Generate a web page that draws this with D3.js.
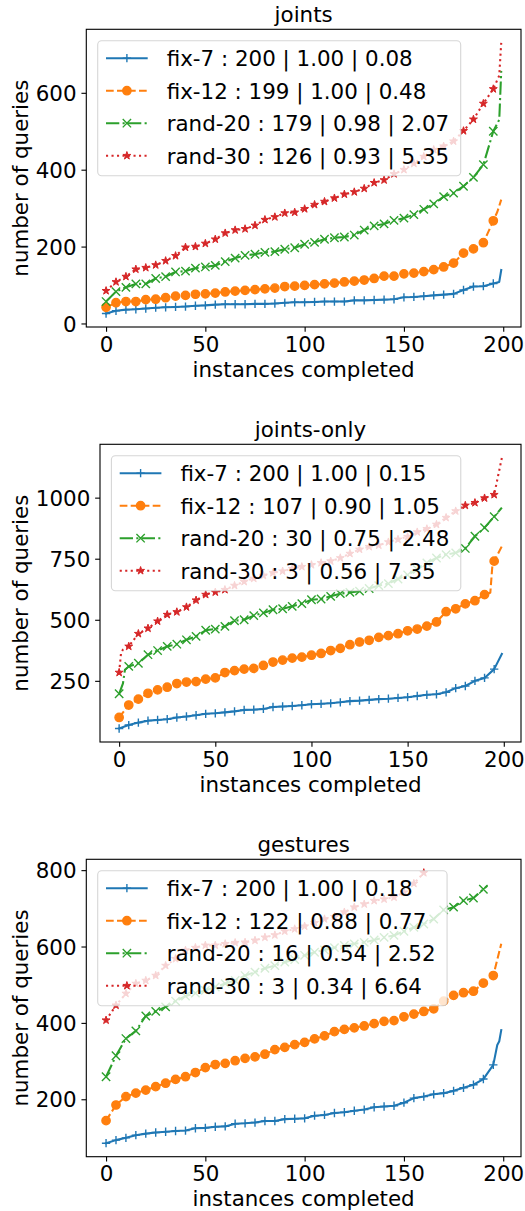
<!DOCTYPE html>
<html><head><meta charset="utf-8">
<script src="https://cdn.jsdelivr.net/npm/d3@7"></script>
<style>
body{margin:0;background:#fff}
svg{display:block}
text{font-family:"DejaVu Sans",sans-serif;fill:#000}
</style>
</head><body>
<svg id="chart" width="525" height="1211"></svg>
<script>
// ---------------- DATA ----------------
const markerX = [0,5,10,15,20,25,30,35,40,45,50,55,60,65,70,75,80,85,90,95,100,105,110,115,120,125,130,135,140,145,150,155,160,165,170,175,180,185,190,195];
const xTicks = [0,50,100,150,200];
const panelTitles = ["joints","joints-only","gestures"];
const seriesNames = ["fix-7","fix-12","rand-20","rand-30"];

// joints
const jointsYTicks = [0,200,400,600];
const jointsLegend = ["fix-7 : 200 | 1.00 | 0.08","fix-12 : 199 | 1.00 | 0.48","rand-20 : 179 | 0.98 | 2.07","rand-30 : 126 | 0.93 | 5.35"];
const jointsFix7 = [26,33,36,37,39,41,42,43,44,46,47,49,50,50,50,51,51,52,54,55,55,56,57,57,57,60,60,61,62,63,68,69,71,73,75,77,87,96,97,104];
const jointsFix7Tail = [[198,108],[199,139]];
const jointsFix12 = [42,54,57,57,62,63,67,71,73,76,77,79,82,84,86,88,90,92,96,97,99,101,103,105,108,110,113,117,123,123,129,131,135,140,147,157,183,194,210,267];
const jointsFix12Tail = [[197,290],[199,322]];
const jointsRand20 = [57,83,94,103,103,117,122,134,136,144,147,151,161,170,177,180,185,187,193,197,206,211,219,223,225,230,243,254,259,268,274,283,297,311,330,339,357,380,413,500];
const jointsRand20Tail = [[198,530],[199,657]];
const jointsRand30 = [85,108,122,141,145,152,163,176,198,200,208,219,235,243,246,255,270,277,287,289,298,309,317,326,336,342,351,366,373,389,400,416,434,452,461,474,501,531,572,610];
const jointsRand30Tail = [[198,645],[199,730]];

// joints-only
const jointsOnlyYTicks = [250,500,750,1000];
const jointsOnlyLegend = ["fix-7 : 200 | 1.00 | 0.15","fix-12 : 107 | 0.90 | 1.05","rand-20 : 30 | 0.75 | 2.48","rand-30 : 3 | 0.56 | 7.35"];
const jointsOnlyFix7 = [55,69,79,87,90,93,100,104,109,115,117,121,125,131,132,135,143,145,147,150,154,156,158,162,167,169,172,175,177,180,183,188,193,195,203,220,229,250,262,298];
const jointsOnlyFix7Tail = [[199,360]];
const jointsOnlyFix12 = [100,151,175,199,213,224,239,245,247,257,262,284,292,298,301,313,327,335,343,347,355,362,374,383,398,409,416,428,435,443,455,462,474,491,533,545,565,578,603,740];
const jointsOnlyFix12Tail = [[193,611],[194,715],[199,801]];
const jointsOnlyRand20 = [197,309,322,357,374,391,400,418,432,457,462,473,496,500,517,528,541,545,555,566,582,585,596,607,612,617,628,640,648,667,684,706,733,753,767,774,792,842,877,922];
const jointsOnlyRand20Tail = [[2,240],[3,295],[199,959]];
const jointsOnlyRand30 = [284,391,443,465,494,521,532,552,580,603,613,623,640,656,669,681,692,699,709,717,725,733,740,753,771,788,799,805,818,829,840,859,872,890,918,945,968,979,998,1012];
const jointsOnlyRand30Tail = [[1,365],[2,378],[199,1163]];

// gestures
const gesturesYTicks = [200,400,600,800];
const gesturesLegend = ["fix-7 : 200 | 1.00 | 0.18","fix-12 : 122 | 0.88 | 0.77","rand-20 : 16 | 0.54 | 2.52","rand-30 : 3 | 0.34 | 6.64"];
const gesturesFix7 = [85,93,99,106,110,113,115,117,118,124,125,128,129,136,137,139,143,143,148,149,150,157,159,164,166,170,173,179,181,183,191,203,207,213,216,222,230,238,253,290];
const gesturesFix7Tail = [[197,342],[198,352],[199,381]];
const gesturesFix12 = [144,185,207,216,224,233,242,252,259,270,283,291,294,301,307,311,318,330,336,343,349,358,366,377,383,387,392,398,404,406,416,423,430,437,457,472,479,483,504,524];
const gesturesFix12Tail = [[199,607]];
const gesturesRand20 = [259,314,359,379,418,430,442,457,470,478,485,494,503,511,524,533,543,550,559,566,577,585,591,597,603,607,611,617,624,629,640,650,659,672,696,703,720,727,750];
const gesturesRand20Tail = [[192,759]];
const gesturesRand30 = [407,446,477,503,511,524,550,568,590,597,603,603,607,610,611,616,624,630,640,646,653,662,672,678,690,703,711,720,724,729,742,765,793];
const gesturesRand30Tail = [];

// ---------------- STYLE / LAYOUT ----------------
const colors = ["#1f77b4","#ff7f0e","#2ca02c","#d62728"];
const dashes = [null,"7.7,3.3","13.3,3.3,2.1,3.3","2.1,3.4"];
const markerTypes = ["plus","circle","x","star"];
const FS = 21.4;

const panels = [
  {title:panelTitles[0], box:{l:86.3,t:29.3,r:521,b:327}, yTicks:jointsYTicks, legend:jointsLegend,
   series:[[jointsFix7,jointsFix7Tail],[jointsFix12,jointsFix12Tail],[jointsRand20,jointsRand20Tail],[jointsRand30,jointsRand30Tail]]},
  {title:panelTitles[1], box:{l:100,t:444.3,r:521,b:742}, yTicks:jointsOnlyYTicks, legend:jointsOnlyLegend,
   series:[[jointsOnlyFix7,jointsOnlyFix7Tail],[jointsOnlyFix12,jointsOnlyFix12Tail],[jointsOnlyRand20,jointsOnlyRand20Tail],[jointsOnlyRand30,jointsOnlyRand30Tail]]},
  {title:panelTitles[2], box:{l:86.3,t:859.3,r:521,b:1156.7}, yTicks:gesturesYTicks, legend:gesturesLegend,
   series:[[gesturesFix7,gesturesFix7Tail],[gesturesFix12,gesturesFix12Tail],[gesturesRand20,gesturesRand20Tail],[gesturesRand30,gesturesRand30Tail]]}
];

const svg = d3.select("#chart");

function markerPath(type, cx, cy){
  const r = 4.17;
  if(type==="plus") return `M${cx-r},${cy}h${2*r}M${cx},${cy-r}v${2*r}`;
  if(type==="x") return `M${cx-r},${cy-r}l${2*r},${2*r}M${cx-r},${cy+r}l${2*r},${-2*r}`;
  if(type==="circle") return `M${cx+r},${cy}A${r},${r} 0 1,1 ${cx-r},${cy}A${r},${r} 0 1,1 ${cx+r},${cy}Z`;
  if(type==="star"){
    const ri = r*0.381966; let p="";
    for(let k=0;k<10;k++){
      const a = -Math.PI/2 + k*Math.PI/5;
      const rr = k%2===0 ? r : ri;
      p += (k===0?"M":"L") + (cx+rr*Math.cos(a)).toFixed(2)+","+(cy+rr*Math.sin(a)).toFixed(2);
    }
    return p+"Z";
  }
}
function styleMarker(sel, i){
  const t = markerTypes[i];
  const filled = (t==="circle"||t==="star");
  sel.attr("fill", filled?colors[i]:"none")
     .attr("stroke", colors[i])
     .attr("stroke-width", t==="star"?1.0:1.39)
     .attr("stroke-linejoin","miter");
}

panels.forEach((P, pi) => {
  const b = P.box;
  const seriesPts = P.series.map(([vals, tail]) => {
    const pts = vals.map((v,k)=>({x:markerX[k], y:v, m:true}));
    tail.forEach(([x,y])=>pts.push({x, y, m:false}));
    pts.sort((a,c)=>a.x-c.x);
    return pts;
  });
  const allPts = seriesPts.flat();
  const xe = [0,199];
  const xpad = (xe[1]-xe[0])*0.05;
  const ye = d3.extent(allPts, d=>d.y);
  const ypad = (ye[1]-ye[0])*0.05;
  const xs = d3.scaleLinear().domain([xe[0]-xpad, xe[1]+xpad]).range([b.l, b.r]);
  const ys = d3.scaleLinear().domain([ye[0]-ypad, ye[1]+ypad]).range([b.b, b.t]);

  const g = svg.append("g");
  const clipId = "clip"+pi;
  g.append("clipPath").attr("id",clipId).append("rect")
    .attr("x",b.l).attr("y",b.t).attr("width",b.r-b.l).attr("height",b.b-b.t);

  const plot = g.append("g").attr("clip-path",`url(#${clipId})`);
  const line = d3.line().x(d=>xs(d.x)).y(d=>ys(d.y));
  seriesPts.forEach((pts, i) => {
    plot.append("path").attr("d", line(pts)).attr("fill","none")
      .attr("stroke", colors[i]).attr("stroke-width",2.08)
      .attr("stroke-dasharray", dashes[i]).attr("stroke-linejoin","round").attr("stroke-linecap", i===0?"square":"butt");
    plot.selectAll(null).data(pts.filter(d=>d.m)).enter().append("path")
      .attr("d", d=>markerPath(markerTypes[i], xs(d.x), ys(d.y)))
      .call(styleMarker, i);
  });

  // axes
  const xAxis = d3.axisBottom(xs).tickValues(xTicks).tickSize(4.86).tickPadding(4.86).tickFormat(d3.format("d"));
  const yAxis = d3.axisLeft(ys).tickValues(P.yTicks).tickSize(4.86).tickPadding(4.86).tickFormat(d3.format("d"));
  const gx = g.append("g").attr("transform",`translate(0,${b.b})`).call(xAxis);
  const gy = g.append("g").attr("transform",`translate(${b.l},0)`).call(yAxis);
  [gx,gy].forEach(a=>{
    a.select(".domain").remove();
    a.selectAll(".tick line").attr("stroke","#000").attr("stroke-width",1.11);
    a.selectAll(".tick text").attr("font-size",FS).attr("font-family","DejaVu Sans").attr("fill","#000");
  });
  gx.selectAll(".tick text").attr("dy",null).attr("y",24.8);
  gy.selectAll(".tick text").attr("dy","0.36em");
  // frame
  g.append("rect").attr("x",b.l).attr("y",b.t).attr("width",b.r-b.l).attr("height",b.b-b.t)
    .attr("fill","none").attr("stroke","#000").attr("stroke-width",1.11);

  // title & labels
  g.append("text").attr("x",(b.l+b.r)/2).attr("y",b.t-7).attr("text-anchor","middle")
    .attr("font-size",FS).text(P.title);
  g.append("text").attr("x",(b.l+b.r)/2).attr("y",b.b+49.7).attr("text-anchor","middle")
    .attr("font-size",FS).text("instances completed");
  g.append("text").attr("transform",`translate(27.5,${(b.t+b.b)/2}) rotate(-90)`).attr("text-anchor","middle")
    .attr("font-size",FS).text("number of queries");

  // legend
  const lx = b.l+11.4, ly = b.t+11.5;
  const lg = g.append("g").attr("transform",`translate(${lx},${ly})`);
  const frame = lg.append("rect");
  let maxW = 0;
  P.legend.forEach((lab, i) => {
    const yy = 17.4 + i*32.5;
    lg.append("path").attr("d",`M8.3,${yy}H50`).attr("fill","none")
      .attr("stroke",colors[i]).attr("stroke-width",2.08).attr("stroke-dasharray",dashes[i]);
    lg.append("path").attr("d",markerPath(markerTypes[i],29.2,yy)).call(styleMarker,i);
    const t = lg.append("text").attr("x",69).attr("y",yy+8).attr("font-size",FS).text(lab);
    maxW = Math.max(maxW, t.node().getComputedTextLength());
  });
  frame.attr("x",0).attr("y",0).attr("width",69+maxW+11.5).attr("height",135)
    .attr("rx",4).attr("ry",4).attr("fill","#fff").attr("fill-opacity",0.8)
    .attr("stroke","#cccccc").attr("stroke-opacity",0.8).attr("stroke-width",1.11);
});
</script>
</body></html>
